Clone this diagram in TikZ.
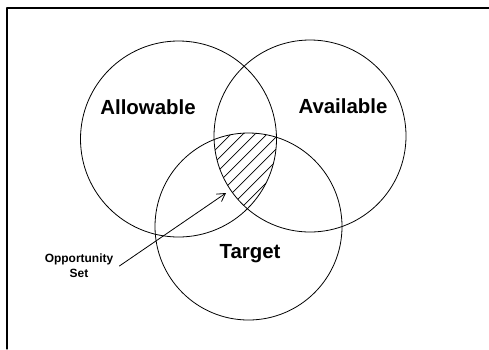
\documentclass[tikz,border=0pt]{standalone}
\usepackage{fontspec}
\setmainfont{Liberation Sans}
\usetikzlibrary{arrows.meta}

\begin{document}
\begin{tikzpicture}[
  x=1bp, y=-1bp,
  line cap=round, line join=round,
  >={Straight Barb[angle=60:9bp]},
  set line/.style={draw=black, line width=.8pt},
  hatch line/.style={draw=black, line width=.7pt},
  set label/.style={font=\fontsize{20.5}{22}\selectfont\bfseries, inner sep=0pt},
  small label/.style={font=\fontsize{12}{15}\selectfont\bfseries, align=center, inner sep=2pt}
]
\useasboundingbox (0,0) rectangle (489,349);

% open frame: only the top and left edges are in view
\draw[line width=1.3pt] (7,349) -- (7,8) -- (489,8);

\coordinate (allow) at (178.5,139);
\coordinate (avail) at (310,136);
\coordinate (targ)  at (248.5,226.5);

% shaded opportunity set: where all three sets meet
\begin{scope}
  \clip (allow) circle[radius=98];
  \clip (avail) circle[radius=96];
  \clip (targ) circle[radius=93.5];
  \foreach \c in {365,377,...,455}
    \draw[hatch line] (\c-100,100) -- (\c-260,260);
\end{scope}

\draw[set line] (allow) circle[radius=98];
\draw[set line] (avail) circle[radius=96];
\draw[set line] (targ) circle[radius=93.5];

\node[set label] (allowLbl) at (148,107) {Allowable};
\node[set label] (availLbl) at (343,106) {Available};
\node[set label] (targLbl)  at (250,254) {Target};

\node[small label] (oppLbl) at (79,266) {Opportunity\\Set};
\coordinate (oppTip) at (226,193);
\draw[set line, ->] ([xshift=4pt]oppLbl.east) -- (oppTip);
\end{tikzpicture}
\end{document}
